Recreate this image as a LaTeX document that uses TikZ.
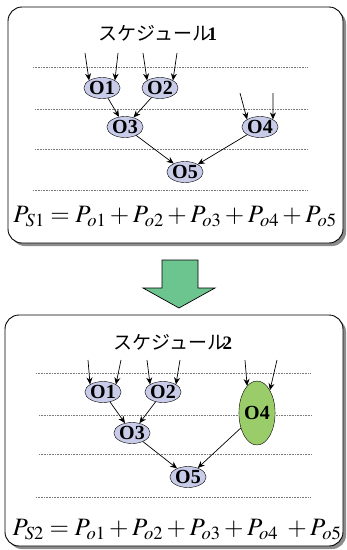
\documentclass[tikz,border=0pt]{standalone}
\usepackage{mathptmx}
\usepackage{fontspec}
\setmainfont{Liberation Serif}
\newfontfamily\jpfont{Noto Sans CJK JP}
\usepackage{tikz}
\usetikzlibrary{shapes.geometric,arrows.meta}
\definecolor{lavanda}{HTML}{C9CCE9}
\definecolor{verdeop}{HTML}{9ACD6A}
\definecolor{verdeflecha}{HTML}{6CC48E}
\definecolor{sombra}{HTML}{8C8C8C}
\definecolor{punteado}{HTML}{7A7A7A}
\tikzset{
  caja/.style={draw=black,fill=white,rounded corners=14pt,line width=0.9pt},
  cajasombra/.style={fill=sombra,rounded corners=14pt},
  op/.style={ellipse,draw,fill=lavanda,font=\fontsize{20}{20}\selectfont\bfseries,inner sep=0pt,minimum width=30pt,minimum height=21pt},
  opverde/.style={op,fill=verdeop,minimum width=32pt,minimum height=64pt},
  nivel/.style={densely dotted,punteado,line width=0.6pt},
  flecha/.style={-{Stealth[length=7pt,width=6pt]},line width=0.7pt},
  titulo/.style={font=\jpfont\fontsize{19}{19}\selectfont},
  formula/.style={font=\fontsize{25}{25}\selectfont},
}
\newcommand{\etq}[1]{\hbox{\jpfont スケジュール\kern-4pt\textbf{\rmfamily #1}}}

\begin{document}
\begin{tikzpicture}[x=1pt,y=-1pt]
  \useasboundingbox (0,0) rectangle (347,550);
  % schedule 1
  \fill[cajasombra] (11,10) rectangle (346,246);
  \draw[caja] (8,7) rectangle (343,243);
  \node[titulo] (t1) at (158,33) {\etq{1}};
  \foreach \y/\a/\b in {67/33/307,109/35/308,149/35/308,190/33/307}
    \draw[nivel] (\a,\y) -- (\b,\y);
  \node[op] (a1) at (102,88) {O1};
  \node[op] (a2) at (160,88) {O2};
  \node[op] (a3) at (125,127) {O3};
  \node[op] (a4) at (260,127) {O4};
  \node[op] (a5) at (185,172) {O5};
  \coordinate (a1i) at (85,53);  \coordinate (a1d) at (118,53);
  \coordinate (a2i) at (143,53); \coordinate (a2d) at (177,53);
  \coordinate (a4i) at (240,93); \coordinate (a4d) at (273,93);
  \draw[flecha] (a1i) -- (a1.north west);
  \draw[flecha] (a1d) -- (a1.north east);
  \draw[flecha] (a2i) -- (a2.north west);
  \draw[flecha] (a2d) -- (a2.north east);
  \draw[flecha] (a4i) -- (a4.north west);
  \draw[flecha] (a4d) -- (a4.north east);
  \draw[flecha] (a1) -- (a3);
  \draw[flecha] (a2) -- (a3);
  \draw[flecha] (a3) -- (a5);
  \draw[flecha] (a4) -- (a5);
  \node[formula] (f1) at (175,217) {$P_{S1}=P_{o1}+P_{o2}+P_{o3}+P_{o4}+P_{o5}$};
  % arrow between
  \draw[fill=verdeflecha,line width=0.7pt] (162,260) -- (198,260) -- (198,288) -- (215,288)
    -- (179,308) -- (143,288) -- (162,288) -- cycle;
  % schedule 2
  \fill[cajasombra] (8,318) rectangle (346,549);
  \draw[caja] (5,315) rectangle (343,546);
  \node[titulo] (t2) at (173,342) {\etq{2}};
  \foreach \y/\a/\b in {373/36/310,415/39/312,454/39/312,497/36/310}
    \draw[nivel] (\a,\y) -- (\b,\y);
  \node[op] (b1) at (103,392) {O1};
  \node[op] (b2) at (163,392) {O2};
  \node[op] (b3) at (132,433) {O3};
  \node[opverde] (b4) at (257,413) {O4};
  \node[op] (b5) at (188,477) {O5};
  \coordinate (b1i) at (88,360);  \coordinate (b1d) at (121,360);
  \coordinate (b2i) at (147,360); \coordinate (b2d) at (180,360);
  \coordinate (b4i) at (245,360); \coordinate (b4d) at (277,360);
  \draw[flecha] (b1i) -- (b1.north west);
  \draw[flecha] (b1d) -- (b1.north east);
  \draw[flecha] (b2i) -- (b2.north west);
  \draw[flecha] (b2d) -- (b2.north east);
  \draw[flecha] (b4i) -- (b4.110);
  \draw[flecha] (b4d) -- (b4.north east);
  \draw[flecha] (b1) -- (b3);
  \draw[flecha] (b2) -- (b3);
  \draw[flecha] (b3) -- (b5);
  \draw[flecha] (b4) -- (b5);
  \node[formula] (f2) at (177,530) {$P_{S2}=P_{o1}+P_{o2}+P_{o3}+P_{o4}\;+P_{o5}$};
\end{tikzpicture}
\end{document}
